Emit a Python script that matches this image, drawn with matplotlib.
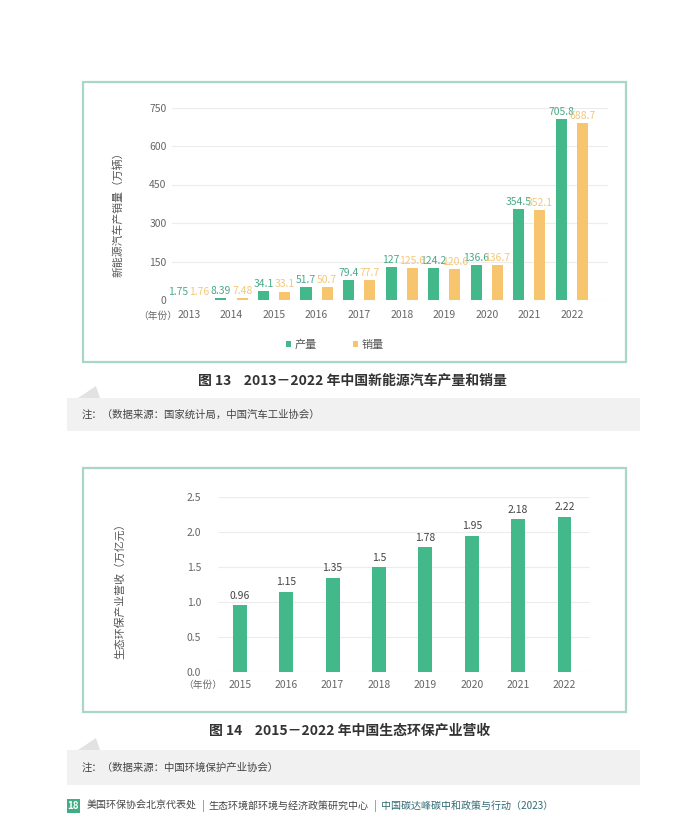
import matplotlib.pyplot as plt
from matplotlib.patches import Rectangle, Polygon
import numpy as np

plt.rcParams['font.family'] = ['Noto Sans CJK SC', 'DejaVu Sans']

# 图13 数据
years_ev = ['2013', '2014', '2015', '2016', '2017', '2018', '2019', '2020', '2021', '2022']
production = [1.75, 8.39, 34.1, 51.7, 79.4, 127, 124.2, 136.6, 354.5, 705.8]
sales = [1.76, 7.48, 33.1, 50.7, 77.7, 125.6, 120.6, 136.7, 352.1, 688.7]
prod_labels = ['1.75', '8.39', '34.1', '51.7', '79.4', '127', '124.2', '136.6', '354.5', '705.8']
sales_labels = ['1.76', '7.48', '33.1', '50.7', '77.7', '125.6', '120.6', '136.7', '352.1', '688.7']
ev_ticks = [0, 150, 300, 450, 600, 750]

# 图14 数据
years_eco = ['2015', '2016', '2017', '2018', '2019', '2020', '2021', '2022']
revenue = [0.96, 1.15, 1.35, 1.5, 1.78, 1.95, 2.18, 2.22]
revenue_labels = ['0.96', '1.15', '1.35', '1.5', '1.78', '1.95', '2.18', '2.22']
eco_ticks = [0.0, 0.5, 1.0, 1.5, 2.0, 2.5]

GREEN = '#43b88b'
ORANGE = '#f6c56d'
GREEN_TXT = '#4aa98a'
ORANGE_TXT = '#f3c77a'
FRAME = '#a9d6c6'
GRID = '#ececec'
TICK = '#666666'

W, H = 700, 817
fig = plt.figure(figsize=(W / 100, H / 100), dpi=100)
fig.patch.set_facecolor('white')


def fx(px):
    return px / W


def fy(py):
    return 1 - py / H


def frame(x0, y0, x1, y1):
    fig.patches.append(Rectangle((fx(x0), fy(y1)), fx(x1 - x0), (y1 - y0) / H,
                                 transform=fig.transFigure, fill=False,
                                 edgecolor=FRAME, linewidth=1.6))


def note_box(y0, y1, text):
    # 灰色注释条，左上角带一个小三角
    fig.patches.append(Polygon([(fx(78), fy(y0)), (fx(96), fy(y0 - 12)), (fx(100), fy(y0))],
                               closed=True, transform=fig.transFigure,
                               facecolor='#e2e2e2', edgecolor='none'))
    fig.patches.append(Rectangle((fx(67), fy(y1)), fx(573), (y1 - y0) / H,
                                 transform=fig.transFigure, facecolor='#f1f1f1',
                                 edgecolor='none'))
    fig.text(fx(82), fy((y0 + y1) / 2), text, fontsize=7.5, color='#444444',
             ha='left', va='center')


def style_axes(ax):
    for s in ax.spines.values():
        s.set_visible(False)
    ax.tick_params(length=0, labelsize=7.5, colors=TICK)
    ax.grid(axis='y', color=GRID, linewidth=0.8)
    ax.set_axisbelow(True)


# ---------------- 图13 ----------------
frame(83, 82, 626, 362)
ax1 = fig.add_axes([fx(172), fy(300), fx(436), (300 - 107.5) / H])
x = np.arange(len(years_ev))
bw = 0.26
ax1.bar(x - 0.25, production, bw, color=GREEN, label='产量')
ax1.bar(x + 0.25, sales, bw, color=ORANGE, label='销量')
for xi, v, t in zip(x, production, prod_labels):
    ax1.text(xi - 0.25, v + 8, t, ha='center', va='bottom', fontsize=7.5,
             color=GREEN_TXT, clip_on=False)
for xi, v, t in zip(x, sales, sales_labels):
    ax1.text(xi + 0.25, v + 8, t, ha='center', va='bottom', fontsize=7.5,
             color=ORANGE_TXT, clip_on=False)
ax1.set_xlim(-0.4, 9.85)
ax1.set_ylim(0, 750)
ax1.set_yticks(ev_ticks)
ax1.set_xticks(x)
ax1.set_xticklabels(years_ev)
style_axes(ax1)
ax1.tick_params(axis='x', pad=7)
ax1.tick_params(axis='y', pad=4)
fig.text(fx(118), fy(212), '新能源汽车产销量（万辆）', fontsize=7.8, color='#555555',
         rotation=90, ha='center', va='center')
fig.text(fx(158), fy(316), '（年份）', fontsize=7, color=TICK, ha='center', va='center')
ax1.legend(loc='center', bbox_to_anchor=(fx(335 - 172) / fx(436), -0.23), ncol=2,
           frameon=False, fontsize=8, handlelength=0.45, handleheight=0.45,
           handletextpad=0.3, columnspacing=3.3, labelcolor='#555555')

fig.text(fx(352), fy(381), '图 13    2013－2022 年中国新能源汽车产量和销量', fontsize=10,
         fontweight='bold', color='#333333', ha='center', va='center')
note_box(398, 431, '注：（数据来源：国家统计局，中国汽车工业协会）')

# ---------------- 图14 ----------------
frame(83, 468, 626, 712)
ax2 = fig.add_axes([fx(218), fy(672), fx(372), (672 - 497) / H])
x2 = np.arange(len(years_eco))
ax2.bar(x2, revenue, 0.3, color=GREEN)
for xi, v, t in zip(x2, revenue, revenue_labels):
    ax2.text(xi, v + 0.06, t, ha='center', va='bottom', fontsize=7.5,
             color='#444444', clip_on=False)
ax2.set_xlim(-0.47, 7.55)
ax2.set_ylim(0, 2.5)
ax2.set_yticks(eco_ticks)
ax2.set_yticklabels([f'{t:.1f}' for t in eco_ticks])
ax2.set_xticks(x2)
ax2.set_xticklabels(years_eco)
style_axes(ax2)
ax2.tick_params(axis='x', pad=6)
ax2.tick_params(axis='y', pad=12)
fig.text(fx(120), fy(588), '生态环保产业营收（万亿元）', fontsize=7.8, color='#555555',
         rotation=90, ha='center', va='center')
fig.text(fx(203), fy(685), '（年份）', fontsize=7, color=TICK, ha='center', va='center')

fig.text(fx(350), fy(731), '图 14    2015－2022 年中国生态环保产业营收', fontsize=10,
         fontweight='bold', color='#333333', ha='center', va='center')
note_box(750, 785, '注：（数据来源：中国环境保护产业协会）')

# ---------------- 页脚 ----------------
fig.patches.append(Rectangle((fx(67), fy(813)), fx(13), 14 / H, transform=fig.transFigure,
                             facecolor='#3fae84', edgecolor='none'))
fig.text(fx(73.5), fy(806), '18', fontsize=7, color='white', ha='center', va='center',
         fontweight='bold')
fig.text(fx(87), fy(806), '美国环保协会北京代表处', fontsize=7.2, color='#444444',
         ha='left', va='center')
fig.text(fx(203), fy(806), '|', fontsize=8, color='#3fae84', ha='center', va='center')
fig.text(fx(208), fy(806), '生态环境部环境与经济政策研究中心', fontsize=7.2, color='#444444',
         ha='left', va='center')
fig.text(fx(375), fy(806), '|', fontsize=8, color='#3fae84', ha='center', va='center')
fig.text(fx(381), fy(806), '中国碳达峰碳中和政策与行动（2023）', fontsize=7.2,
         color='#2f6b73', ha='left', va='center')

fig.savefig('out.png', dpi=100)
